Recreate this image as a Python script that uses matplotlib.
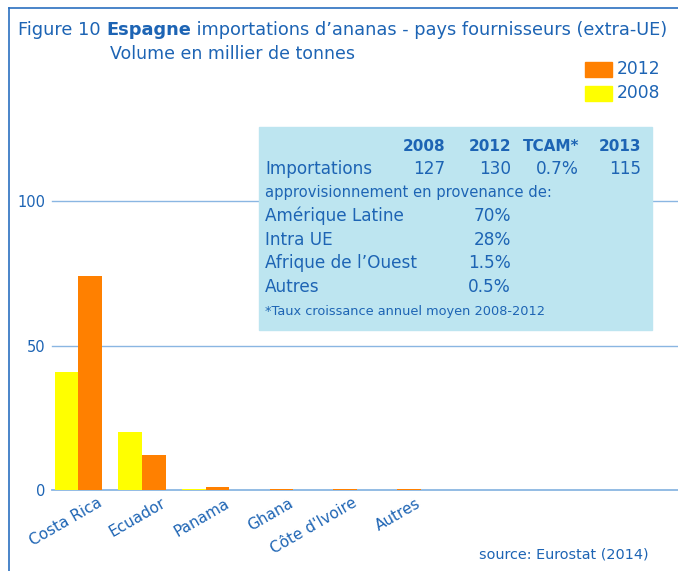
import numpy as np
import matplotlib
matplotlib.use('Agg')
import matplotlib.pyplot as plt
import matplotlib.transforms as mtransforms
from matplotlib.patches import Rectangle
from matplotlib.lines import Line2D

# data
pays = ['Costa Rica', 'Ecuador', 'Panama', 'Ghana', "Côte d'Ivoire", 'Autres']
v2008 = [41, 20, 0.3, 0.0, 0.0, 0.0]
v2012 = [74, 12, 1.2, 0.5, 0.5, 0.5]
yticks = [0, 50, 100]

tab_head = ['2008', '2012', 'TCAM*', '2013']
tab_import = ['127', '130', '0.7%', '115']
origines = ['Amérique Latine', 'Intra UE', "Afrique de l\u2019Ouest", 'Autres']
parts = ['70%', '28%', '1.5%', '0.5%']

BLUE = '#1d64b4'
GRID = '#8ab6e2'
ORANGE = '#ff8000'
YELLOW = '#ffff00'

plt.rcParams['font.family'] = ['DejaVu Sans']

W, H = 678, 571
fig = plt.figure(figsize=(W / 100, H / 100), dpi=100)

def fx(px):
    return px / W

def fy(py):
    return 1 - py / H

# frame lines (top and left)
fig.add_artist(Line2D([fx(9), 1], [fy(8), fy(8)], color='#2a6fc0', lw=1.2))
fig.add_artist(Line2D([fx(9), fx(9)], [fy(8), 0], color='#2a6fc0', lw=1.2))

# axes: y=0 at px 490, y=100 at px 201
ax = fig.add_axes([fx(52), fy(490), 1 - fx(52), (490 - 201) / H])
x = np.arange(len(pays))
w = 0.37
ax.bar(x - w / 2, v2008, w, color=YELLOW, zorder=3)
ax.bar(x + w / 2, v2012, w, color=ORANGE, zorder=3)
ax.set_xlim(-0.41, 9.4)
ax.set_ylim(0, 100)
for s in ax.spines.values():
    s.set_visible(False)
for yt in yticks:
    ax.axhline(yt, color=GRID, lw=1.3 if yt == 0 else 1.0, zorder=2, clip_on=False)
ax.set_yticks(yticks)
ax.set_yticklabels([str(v) for v in yticks], color=BLUE, fontsize=10.5)
ax.tick_params(axis='y', length=0, pad=5)
ax.set_xticks(x)
ax.set_xticklabels(pays, rotation=30, ha='right', rotation_mode='anchor',
                   color=BLUE, fontsize=11)
ax.tick_params(axis='x', length=0, pad=4)
off = mtransforms.ScaledTranslation(19 / 100, 0, fig.dpi_scale_trans)
for lab in ax.get_xticklabels():
    lab.set_transform(lab.get_transform() + off)

# title
fig.canvas.draw()
r = fig.canvas.get_renderer()
t1 = fig.text(fx(18), fy(30), 'Figure 10 ', color=BLUE, fontsize=12.75, va='center')
bb = t1.get_window_extent(r)
t2 = fig.text(bb.x1 / W, fy(30), 'Espagne', color=BLUE, fontsize=12.75, va='center',
              fontweight='bold')
bb2 = t2.get_window_extent(r)
fig.text(bb2.x1 / W, fy(30), ' importations d\u2019ananas - pays fournisseurs (extra-UE)',
         color=BLUE, fontsize=12.75, va='center')
fig.text(fx(110), fy(54), 'Volume en millier de tonnes', color=BLUE, fontsize=12.5, va='center')

# legend
fig.add_artist(Rectangle((fx(585), fy(77)), fx(27), 15 / H, color=ORANGE))
fig.add_artist(Rectangle((fx(585), fy(101)), fx(27), 15 / H, color=YELLOW))
fig.text(fx(617), fy(69), '2012', color=BLUE, fontsize=12.3, va='center')
fig.text(fx(617), fy(93), '2008', color=BLUE, fontsize=12.3, va='center')

# info box
fig.add_artist(Rectangle((fx(259), fy(330)), fx(652 - 259), (330 - 127) / H,
                         color='#bde5f0', zorder=5))
col_r = [445, 511, 579, 641]
for c, h in zip(col_r, tab_head):
    fig.text(fx(c), fy(146), h, color=BLUE, fontsize=11, fontweight='bold',
             ha='right', va='center', zorder=6)
fig.text(fx(265), fy(169), 'Importations', color=BLUE, fontsize=12.2, va='center', zorder=6)
for c, v in zip(col_r, tab_import):
    fig.text(fx(c), fy(169), v, color=BLUE, fontsize=12.2, ha='right', va='center', zorder=6)
fig.text(fx(265), fy(193), 'approvisionnement en provenance de:', color=BLUE,
         fontsize=10.6, va='center', zorder=6)
for i, (o, p) in enumerate(zip(origines, parts)):
    yy = 216 + i * 23.7
    fig.text(fx(265), fy(yy), o, color=BLUE, fontsize=12.2, va='center', zorder=6)
    fig.text(fx(511), fy(yy), p, color=BLUE, fontsize=12.2, ha='right', va='center', zorder=6)
fig.text(fx(265), fy(311), '*Taux croissance annuel moyen 2008-2012', color=BLUE,
         fontsize=9.3, va='center', zorder=6)

fig.text(fx(649), fy(555), 'source: Eurostat (2014)', color=BLUE, fontsize=10.4,
         ha='right', va='center')

fig.savefig('out.png', dpi=100)
